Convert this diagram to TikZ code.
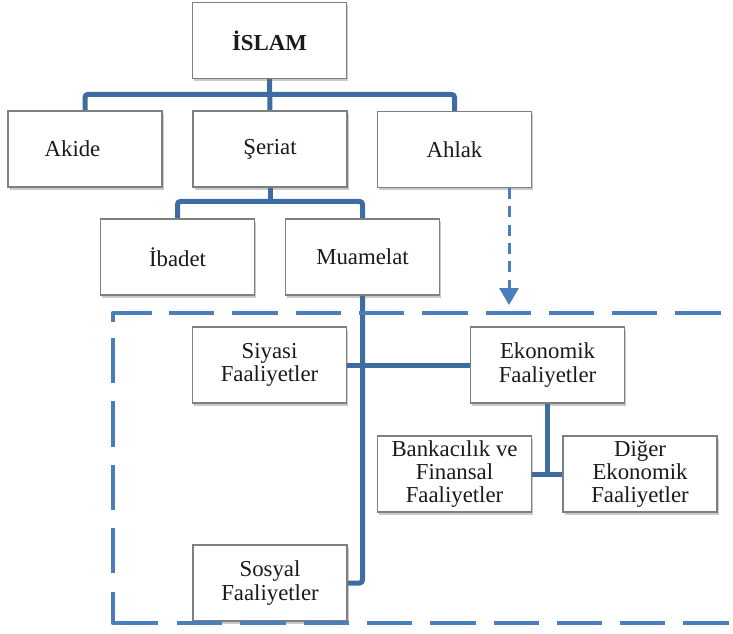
\documentclass[tikz,border=0pt]{standalone}
\usepackage{fontspec}
\setmainfont{Liberation Serif}
\usetikzlibrary{arrows.meta,shadows}
\pgfdeclarelayer{background}
\pgfsetlayers{background,main}
\definecolor{conncol}{HTML}{3C6CA0}
\definecolor{dashcol}{HTML}{4A7EBD}
\definecolor{boxline}{HTML}{7F7F7F}
\definecolor{txtcol}{HTML}{1A1A1A}
\begin{document}
\begin{tikzpicture}[x=1pt,y=-1pt,
  box/.style={draw=boxline, line width=1.2pt, fill=white,
    minimum width=154pt, minimum height=76pt, inner sep=0pt, align=center,
    font=\fontsize{22.8}{23.2}\selectfont, text=txtcol,
    drop shadow={shadow xshift=1.5pt, shadow yshift=-2.5pt, opacity=0.35, fill=black!60}},
  conn/.style={draw=conncol, line width=5pt, rounded corners=3pt},
  frame/.style={draw=dashcol, line width=4.5pt},
  longdash/.style={dash pattern=on 45.3pt off 18pt},
  dashar/.style={draw=dashcol, line width=3pt, dash pattern=on 11pt off 7.3pt,
    -{Triangle[width=19pt,length=17pt]}}]
\useasboundingbox (0,0) rectangle (733,633);

% nodes
\node[box, font=\bfseries\fontsize{22.8}{23.2}\selectfont] (islam) at (269.5,40.5) {İSLAM};
\node[box] (akide) at (85,149) {Akide\hspace*{25pt}};
\node[box] (seriat) at (270,149) {Şeriat};
\node[box] (ahlak) at (454.5,149.5) {Ahlak};
\node[box] (ibadet) at (177.5,257) {İbadet};
\node[box] (muamelat) at (362.5,257) {Muamelat};
\node[box] (siyasi) at (269.5,365) {Siyasi\\Faaliyetler};
\node[box] (ekonomik) at (547.5,365) {Ekonomik\\Faaliyetler};
\node[box] (bankacilik) at (454.5,474) {Bankacılık ve\\Finansal\\Faaliyetler};
\node[box] (diger) at (640,474) {Diğer\\Ekonomik\\Faaliyetler};
\node[box] (sosyal) at (270,583) {Sosyal\\Faaliyetler};

% connectors (behind boxes)
\begin{pgfonlayer}{background}
\draw[conn] (islam.south) -- (seriat.north);
\draw[conn] (akide.north) -- ++(0,-16) -| (ahlak.north);
\draw[conn] (seriat.south) -- ++(0,16);
\draw[conn] (ibadet.north) -- ++(0,-17) -| (muamelat.north);
\draw[conn] (muamelat.south) |- (sosyal.east);
\draw[conn] (siyasi.east) -- (ekonomik.west);
\draw[conn] (ekonomik.south) -- (ekonomik.south |- bankacilik.east);
\draw[conn] (bankacilik.east) -- (diger.west);
\end{pgfonlayer}

% dashed frame
\draw[frame, line join=round] (113,322) -- (113,313) -- (152,313);
\draw[frame, longdash] (169,313) -- (733,313);
\draw[frame, longdash] (113,338) -- (113,590);
\draw[frame, line join=round] (113,592) -- (113,623) -- (158,623);
\draw[frame, longdash] (177,623) -- (733,623);

% dashed arrow from Ahlak
\coordinate (tip) at (509,305);
\draw[dashar] (ahlak.south -| tip) -- (tip);
\end{tikzpicture}
\end{document}
